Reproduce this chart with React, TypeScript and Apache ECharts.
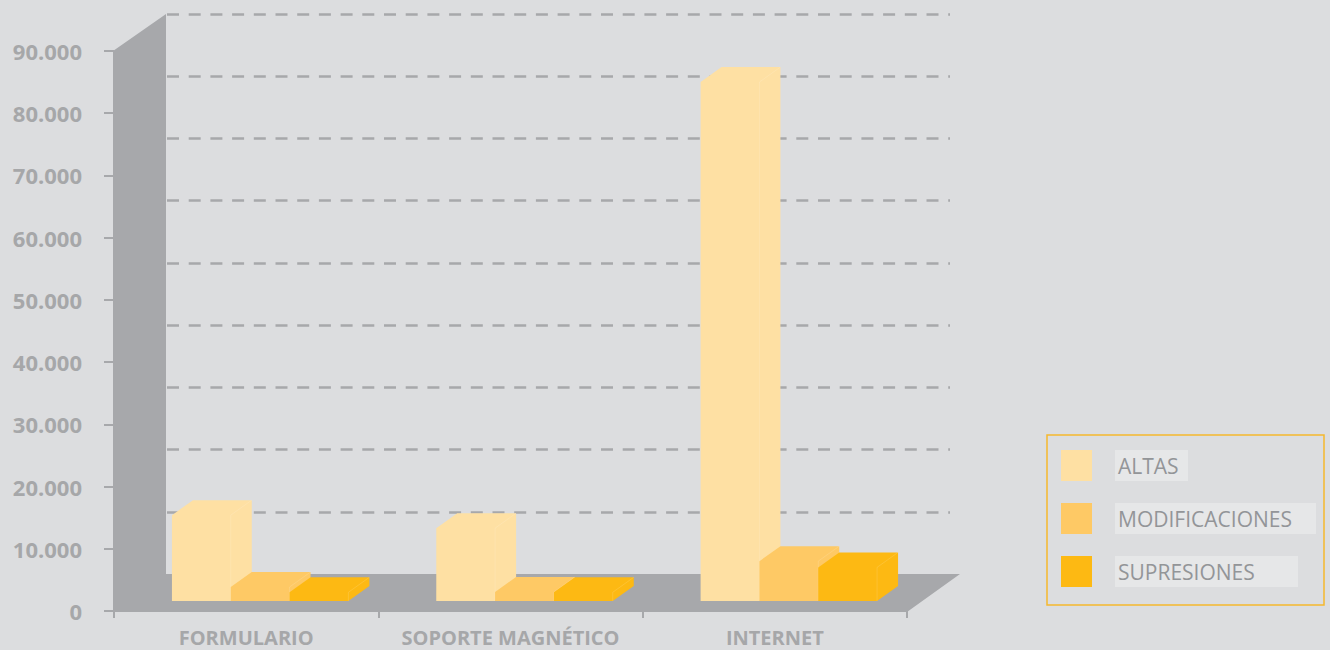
import React, { useEffect, useRef } from "react";
import * as echarts from "echarts";

const categories = ["FORMULARIO", "SOPORTE MAGNÉTICO", "INTERNET"];
const seriesNames = ["ALTAS", "MODIFICACIONES", "SUPRESIONES"];
const altas = [13800, 11700, 83400];
const modificaciones = [2250, 1450, 6400];
const supresiones = [1400, 1400, 5400];
const yTicks = { min: 0, max: 90000, interval: 10000 };

const COLORS = ["#fee0a3", "#fec965", "#fdb913"];
const BG = "#dcdddf";
const WALL = "#a7a8ab";
const TEXT = "#a6a7a9";
const FONT = "'Open Sans', 'Noto Sans', sans-serif";

const WALL_DX = 53;
const WALL_DY = 37;
const BAR_OFF_X = 14;
const BAR_OFF_Y = 10;
const BAR_DX = 21;
const BAR_DY = 15;
const BAR_FRAC = 0.2225;

const fmt = (v: number) => String(v).replace(/\B(?=(\d{3})+(?!\d))/g, ".");

function barRenderer(idx: number) {
  return (params: any, api: any) => {
    const cat = api.value(0);
    const v = api.value(1);
    const top = api.coord([cat, v]);
    const base = api.coord([cat, 0]);
    const band = api.size([1, 0])[0];
    const bw = band * BAR_FRAC;
    const x = top[0] - 1.5 * bw + BAR_OFF_X + idx * bw;
    const yt = top[1] - BAR_OFF_Y;
    const yb = base[1] - BAR_OFF_Y;
    const color = api.visual("color");
    return {
      type: "group",
      children: [
        {
          type: "polygon",
          shape: {
            points: [
              [x, yb],
              [x, yt],
              [x + BAR_DX, yt - BAR_DY],
              [x + bw + BAR_DX, yt - BAR_DY],
              [x + bw + BAR_DX, yb - BAR_DY],
              [x + bw, yb],
            ],
          },
          style: { fill: color },
        },
        {
          type: "polyline",
          shape: {
            points: [
              [x + bw, yb],
              [x + bw, yt],
              [x + bw + BAR_DX, yt - BAR_DY],
            ],
          },
          style: { stroke: "rgba(255,255,255,0.22)", lineWidth: 0.6, fill: "none" },
        },
      ],
    };
  };
}

function frameRenderer(params: any, api: any) {
  const cs = params.coordSys;
  const x0 = cs.x;
  const x3 = cs.x + cs.width;
  const yTop = api.coord([0, yTicks.max])[1];
  const y0 = api.coord([0, 0])[1];
  return {
    type: "polygon",
    shape: {
      points: [
        [x0 - 1, y0 + 1],
        [x0 - 1, yTop],
        [x0 - 1 + WALL_DX, yTop - WALL_DY],
        [x0 - 1 + WALL_DX, y0 - WALL_DY],
        [x3 + WALL_DX, y0 - WALL_DY],
        [x3, y0 + 1],
      ],
    },
    style: { fill: WALL },
  };
}

export default function App() {
  const ref = useRef<HTMLDivElement>(null);
  useEffect(() => {
    document.body.style.margin = "0";
    if (!ref.current) return;
    const chart = echarts.init(ref.current, undefined, { renderer: "svg" });
    const values = [altas, modificaciones, supresiones];
    const gridTop = 51;
    const gridH = 560;
    const step = gridH / 9;
    const legendRich: any = {
      s: { width: 18 },
    };
    const widths = [70, 198, 180];
    seriesNames.forEach((_, i) => {
      legendRich["a" + i] = {
        width: widths[i],
        height: 31,
        lineHeight: 31,
        backgroundColor: "#e6e7e8",
        padding: [0, 0, 0, 3],
        color: "#939598",
        fontSize: 21,
        fontFamily: FONT,
      };
    });
    chart.setOption({
      animation: false,
      backgroundColor: BG,
      grid: [
        { left: 114, right: 423, top: gridTop, height: gridH },
        {
          left: 114 + WALL_DX,
          right: 380,
          top: gridTop - WALL_DY,
          height: step * 8,
        },
      ],
      xAxis: [
        {
          type: "category",
          gridIndex: 0,
          data: categories,
          axisLine: { show: true, lineStyle: { color: WALL, width: 2 } },
          axisTick: { show: true, length: 7, lineStyle: { color: WALL, width: 2 } },
          axisLabel: {
            interval: 0,
            color: TEXT,
            fontWeight: "bold",
            fontSize: 20,
            fontFamily: FONT,
            margin: 16,
          },
          splitLine: { show: false },
        },
        { type: "value", gridIndex: 1, show: false, min: 0, max: 1 },
      ],
      yAxis: [
        {
          type: "value",
          gridIndex: 0,
          min: yTicks.min,
          max: yTicks.max,
          interval: yTicks.interval,
          axisLine: { show: false },
          axisTick: { show: true, length: 10, lineStyle: { color: WALL, width: 2 } },
          axisLabel: {
            color: TEXT,
            fontWeight: "bold",
            fontSize: 22,
            fontFamily: FONT,
            margin: 32,
            formatter: (v: number) => fmt(v),
          },
          splitLine: { show: false },
        },
        {
          type: "value",
          gridIndex: 1,
          min: yTicks.interval,
          max: yTicks.max,
          interval: yTicks.interval,
          axisLine: { show: false },
          axisTick: { show: false },
          axisLabel: { show: false },
          splitLine: {
            show: true,
            lineStyle: { color: WALL, width: 2.6, type: [12, 9.7] },
          },
        },
      ],
      legend: {
        orient: "vertical",
        left: 1047,
        top: 435,
        padding: [15, 8, 18, 14],
        borderColor: "#f5b82e",
        borderWidth: 1.5,
        itemWidth: 31,
        itemHeight: 31,
        itemGap: 22,
        icon: "rect",
        data: seriesNames,
        selectedMode: false,
        formatter: (name: string) => {
          const i = seriesNames.indexOf(name);
          return `{s| }{a${i}|${name}}`;
        },
        textStyle: { rich: legendRich },
      },
      series: [
        {
          type: "custom",
          name: "frame",
          xAxisIndex: 0,
          yAxisIndex: 0,
          data: [[0, 0]],
          renderItem: frameRenderer,
          silent: true,
          z: 1,
        },
        ...seriesNames.map((name, i) => ({
          type: "custom",
          name,
          xAxisIndex: 0,
          yAxisIndex: 0,
          itemStyle: { color: COLORS[i] },
          data: values[i].map((v, c) => [c, v]),
          renderItem: barRenderer(i),
          z: 2,
        })),
      ],
    });
    return () => chart.dispose();
  }, []);
  return <div ref={ref} style={{ width: 1330, height: 650 }} />;
}
